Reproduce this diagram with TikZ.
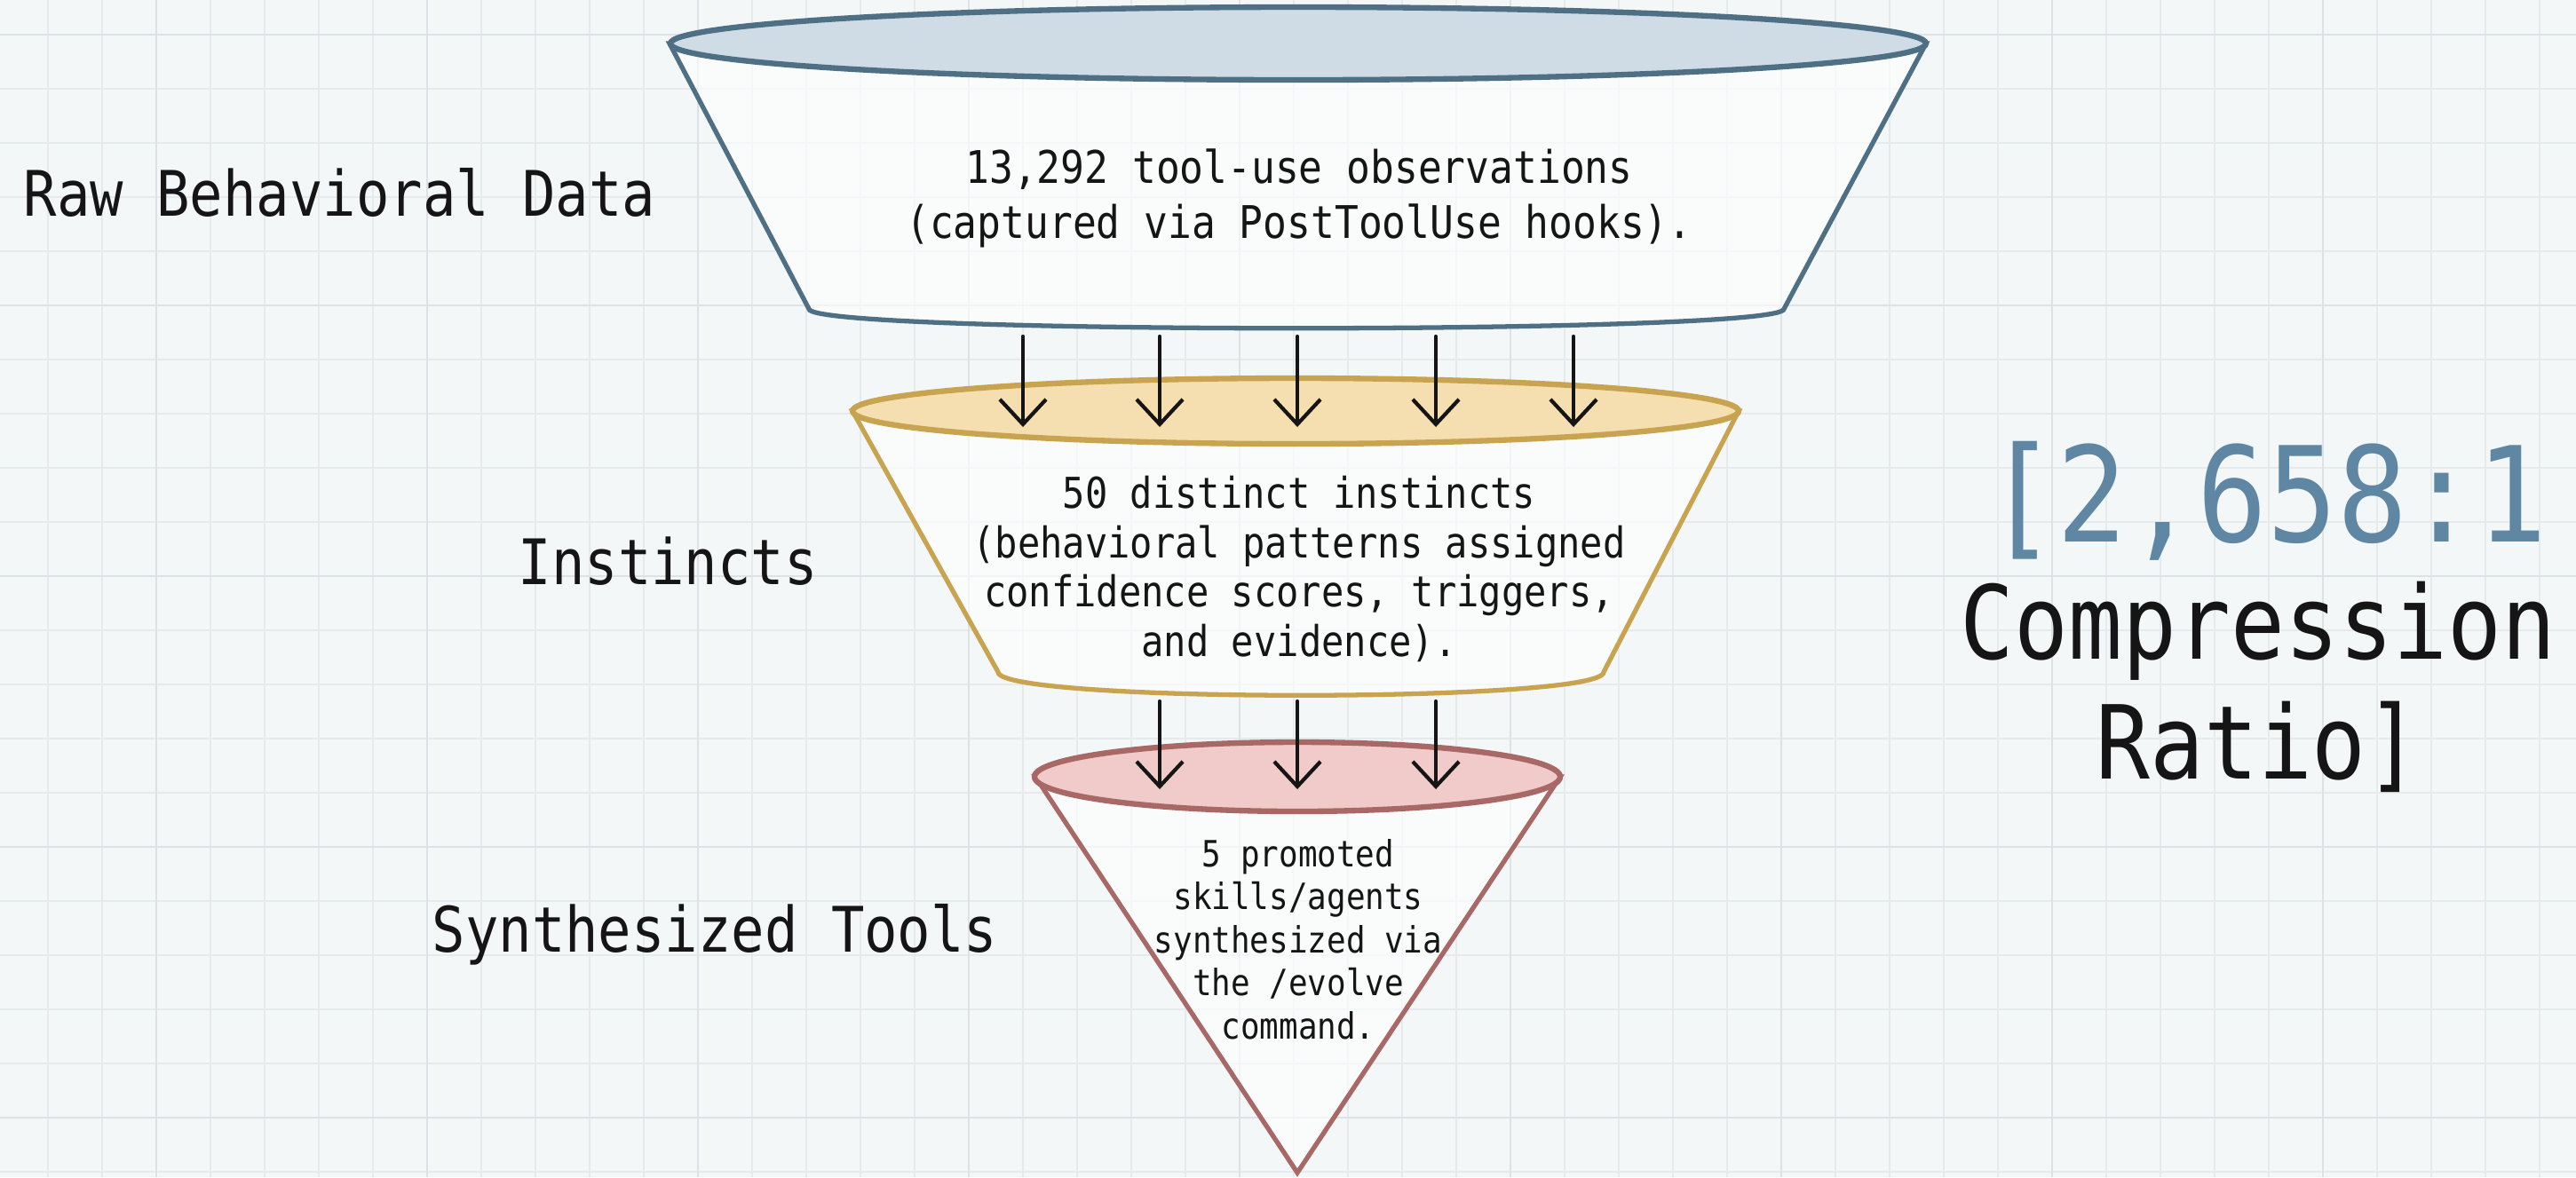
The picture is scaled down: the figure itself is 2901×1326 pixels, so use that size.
\documentclass[tikz,border=0pt]{standalone}
\usepackage{fontspec}
\usetikzlibrary{arrows.meta}
\newfontfamily\diagmono[FakeStretch=0.88]{DejaVu Sans Mono}

\definecolor{paper}{HTML}{F3F7F7}
\definecolor{gridminor}{HTML}{E5EBED}
\definecolor{gridmajor}{HTML}{DCE2E5}
\definecolor{rawline}{HTML}{4F6F84}
\definecolor{rawfill}{HTML}{CFDCE5}
\definecolor{instline}{HTML}{C9A450}
\definecolor{instfill}{HTML}{F5DFB0}
\definecolor{toolline}{HTML}{A86866}
\definecolor{toolfill}{HTML}{F1CACA}
\definecolor{ratioblue}{HTML}{5F86A3}
\definecolor{ink}{HTML}{151515}

\begin{document}
\begin{tikzpicture}[x=0.01cm, y=-0.01cm,
  stagelabel/.style={anchor=base west, inner sep=0, text=ink, font=\diagmono\fontsize{20.1}{24}\selectfont},
  funneltext/.style={align=center, inner sep=0, text=ink},
  body/.style={line width=1.5pt, fill=white, fill opacity=0.6},
  rim/.style={line width=1.8pt},
  flowarrow/.style={line width=1.2pt, draw=ink, line cap=round, -{Straight Barb[length=0.28cm, width=0.52cm]}}]

% paper and grid
\fill[paper] (0,0) rectangle (2901,1326);
\useasboundingbox (0,0) rectangle (2901,1326);
\foreach \x in {54,115,...,2901} \draw[gridminor, line width=0.6pt] (\x,0) -- (\x,1326);
\foreach \y in {39,100,...,1326} \draw[gridminor, line width=0.6pt] (0,\y) -- (2901,\y);
\foreach \x in {176,481,...,2901} \draw[gridmajor, line width=0.8pt] (\x,0) -- (\x,1326);
\foreach \y in {39,344,...,1326} \draw[gridmajor, line width=0.8pt] (0,\y) -- (2901,\y);

% raw data funnel
\draw[body, draw=rawline] (754,49) -- (911,348) .. controls (911,377) and (2009,377) .. (2009,348) -- (2169,49) -- cycle;
\draw[rim, draw=rawline, fill=rawfill] (1462,49) ellipse [x radius=707, y radius=41];

% instincts funnel
\draw[body, draw=instline] (960,463) -- (1124,757) .. controls (1124,792) and (1806,792) .. (1806,757) -- (1958,463) -- cycle;
\draw[rim, draw=instline, fill=instfill] (1459,463) ellipse [x radius=499, y radius=37];

% tools cone
\draw[body, draw=toolline] (1166,875) -- (1461,1321) -- (1757,875) -- cycle;
\draw[rim, draw=toolline, fill=toolfill] (1461,875) ellipse [x radius=296, y radius=39];

% texts
\node[funneltext, font=\diagmono\fontsize{14.4}{17.6}\selectfont] (rawtxt) at (1463,223) {13,292 tool-use observations\\(captured via PostToolUse hooks).};
\node[funneltext, font=\diagmono\fontsize{13.6}{15.9}\selectfont] (insttxt) at (1463,641) {50 distinct instincts\\(behavioral patterns assigned\\confidence scores, triggers,\\and evidence).};
\node[funneltext, font=\diagmono\fontsize{11.6}{13.8}\selectfont] (tooltxt) at (1462,1058) {5 promoted\\skills/agents\\synthesized via\\the /evolve\\command.};

\node[stagelabel] (rawlbl) at (26,243) {Raw Behavioral Data};
\node[stagelabel] (instlbl) at (583,658) {Instincts};
\node[stagelabel] (toollbl) at (486,1072) {Synthesized Tools};

\node[anchor=base, inner sep=0, text=ratioblue, font=\diagmono\fontsize{42.4}{50}\selectfont] (ratio) at (2553,610) {[2,658:1};
\node[funneltext, font=\diagmono\fontsize{32.7}{38.4}\selectfont] (ratiolbl) at (2543,774) {Compression\\Ratio]};

% arrows between stages
\foreach \x [count=\i] in {1152,1306,1461,1617,1772} {
  \coordinate (rawout\i) at (\x,379);
  \coordinate (instin\i) at (\x,481);
  \draw[flowarrow] (rawout\i) -- (instin\i);
}
\foreach \x [count=\i] in {1306,1461,1617} {
  \coordinate (instout\i) at (\x,790);
  \coordinate (toolin\i) at (\x,889);
  \draw[flowarrow] (instout\i) -- (toolin\i);
}
\end{tikzpicture}
\end{document}
